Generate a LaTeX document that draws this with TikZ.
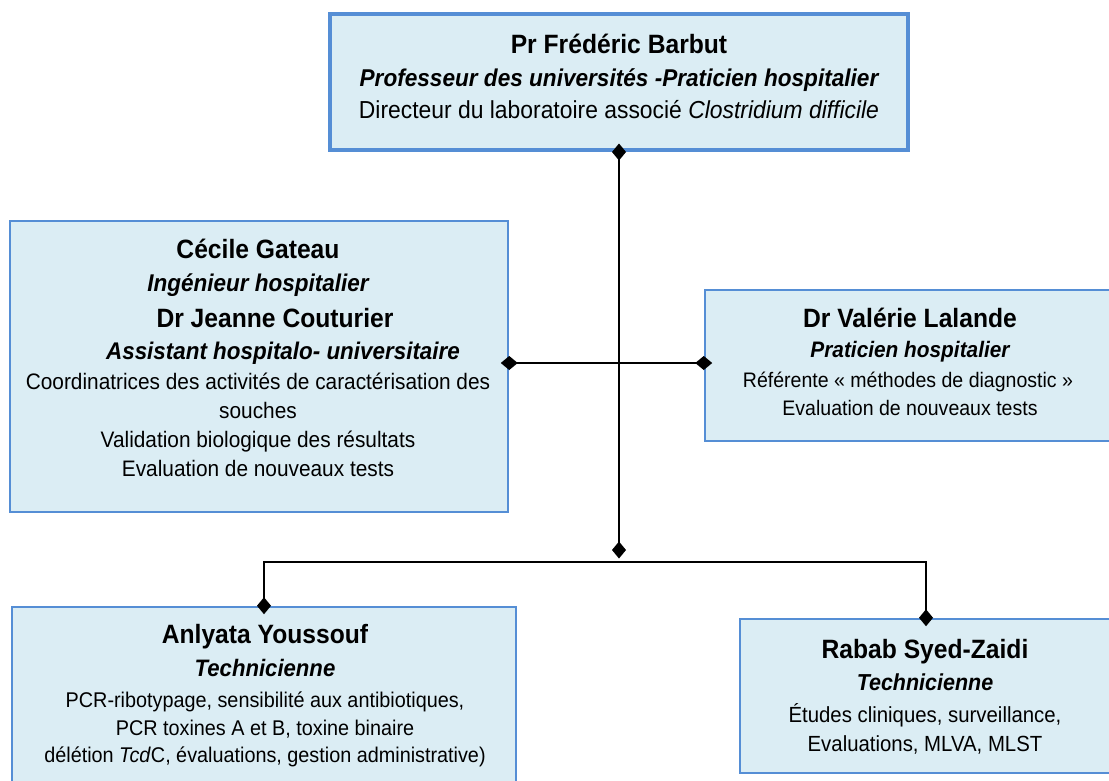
\documentclass[tikz,border=0pt]{standalone}
\usepackage{fontspec}
\setmainfont{Liberation Sans}[FakeStretch=0.93]
\usetikzlibrary{arrows.meta}
\definecolor{boxfill}{RGB}{219,237,244}
\definecolor{boxdraw}{RGB}{85,142,213}
\begin{document}
\begin{tikzpicture}[x=1pt,y=-1pt,
  box/.style={draw=boxdraw, fill=boxfill, line width=2.5pt, inner sep=0pt},
  conn/.style={draw=black, line width=1.8pt,
    {Diamond[length=17pt,width=14pt]}-{Diamond[length=17pt,width=14pt]},
    shorten <=-8.5pt, shorten >=-8.5pt},
  txt/.style={anchor=base, inner sep=0pt, text=black},
  nm/.style={txt, font={\fontsize{26.5}{30}\selectfont\bfseries}},
  rl/.style={txt, font={\fontsize{#1}{30}\selectfont\bfseries\itshape}},
  rl/.default=24,
  bd/.style={txt, font={\fontsize{#1}{28}\selectfont}},
  bd/.default=22]
\path[use as bounding box, clip] (0,0) rectangle (1109,780);

% boxes
\node[box, line width=4pt, minimum width=578pt, minimum height=136pt] (top) at (619,82) {};
\node[box, minimum width=498pt, minimum height=291pt] (left) at (259,366.5) {};
\node[box, minimum width=407pt, minimum height=151pt] (right) at (908.5,365.5) {};
\node[box, minimum width=504pt, minimum height=188pt] (bl) at (264,701) {};
\node[box, minimum width=372pt, minimum height=154pt] (br) at (926,696) {};

% connectors
\coordinate (j1) at (619,550);
\coordinate (mid) at (619,363);
\coordinate (hbar) at (619,562);
\draw[conn] (top.south) -- (j1);
\draw[conn] (left.east |- mid) -- (right.west |- mid);
\draw[conn] (bl.north) |- (hbar) -| (br.north);

% top box text
\node[nm] (topname) at (619,53) {Pr Frédéric Barbut};
\node[rl=24.3] (toprole) at (619,86) {Professeur des universités -Praticien hospitalier};
\node[bd=24.6] (topdesc) at (619,118) {Directeur du laboratoire associé \textit{Clostridium difficile}};

% left box text
\node[nm] (lname1) at (258,258) {Cécile Gateau};
\node[rl=24.2] (lrole1) at (258,291) {Ingénieur hospitalier};
\node[nm] (lname2) at (275,327) {Dr Jeanne Couturier};
\node[rl=24.1] (lrole2) at (283,359) {Assistant hospitalo- universitaire};
\node[bd=22.4] (ld1) at (258,389) {Coordinatrices des activités de caractérisation des};
\node[bd=22.4] (ld2) at (258,418) {souches};
\node[bd=22.4] (ld3) at (258,447) {Validation biologique des résultats};
\node[bd=22.4] (ld4) at (258,476) {Evaluation de nouveaux tests};

% right box text
\node[nm] (rname) at (910,327) {Dr Valérie Lalande};
\node[rl=22.4] (rrole) at (910,357) {Praticien hospitalier};
\node[bd=21] (rd1) at (908,387) {Référente « méthodes de diagnostic »};
\node[bd=21] (rd2) at (910,415) {Evaluation de nouveaux tests};

% bottom left text
\node[nm] (blname) at (265,643) {Anlyata Youssouf};
\node[rl=23.8] (blrole) at (265,676) {Technicienne};
\node[bd=21.3] (bld1) at (265,707) {PCR-ribotypage, sensibilité aux antibiotiques,};
\node[bd=21.3] (bld2) at (265,735) {PCR toxines A et B, toxine binaire};
\node[bd=21.3] (bld3) at (265,762) {délétion \textit{Tcd}C, évaluations, gestion administrative)};

% bottom right text
\node[nm] (brname) at (925,658) {Rabab Syed-Zaidi};
\node[rl=23.1] (brrole) at (925,690) {Technicienne};
\node[bd=21.9] (brd1) at (925,722) {Études cliniques, surveillance,};
\node[bd=21.9] (brd2) at (925,751) {Evaluations, MLVA, MLST};
\end{tikzpicture}
\end{document}
